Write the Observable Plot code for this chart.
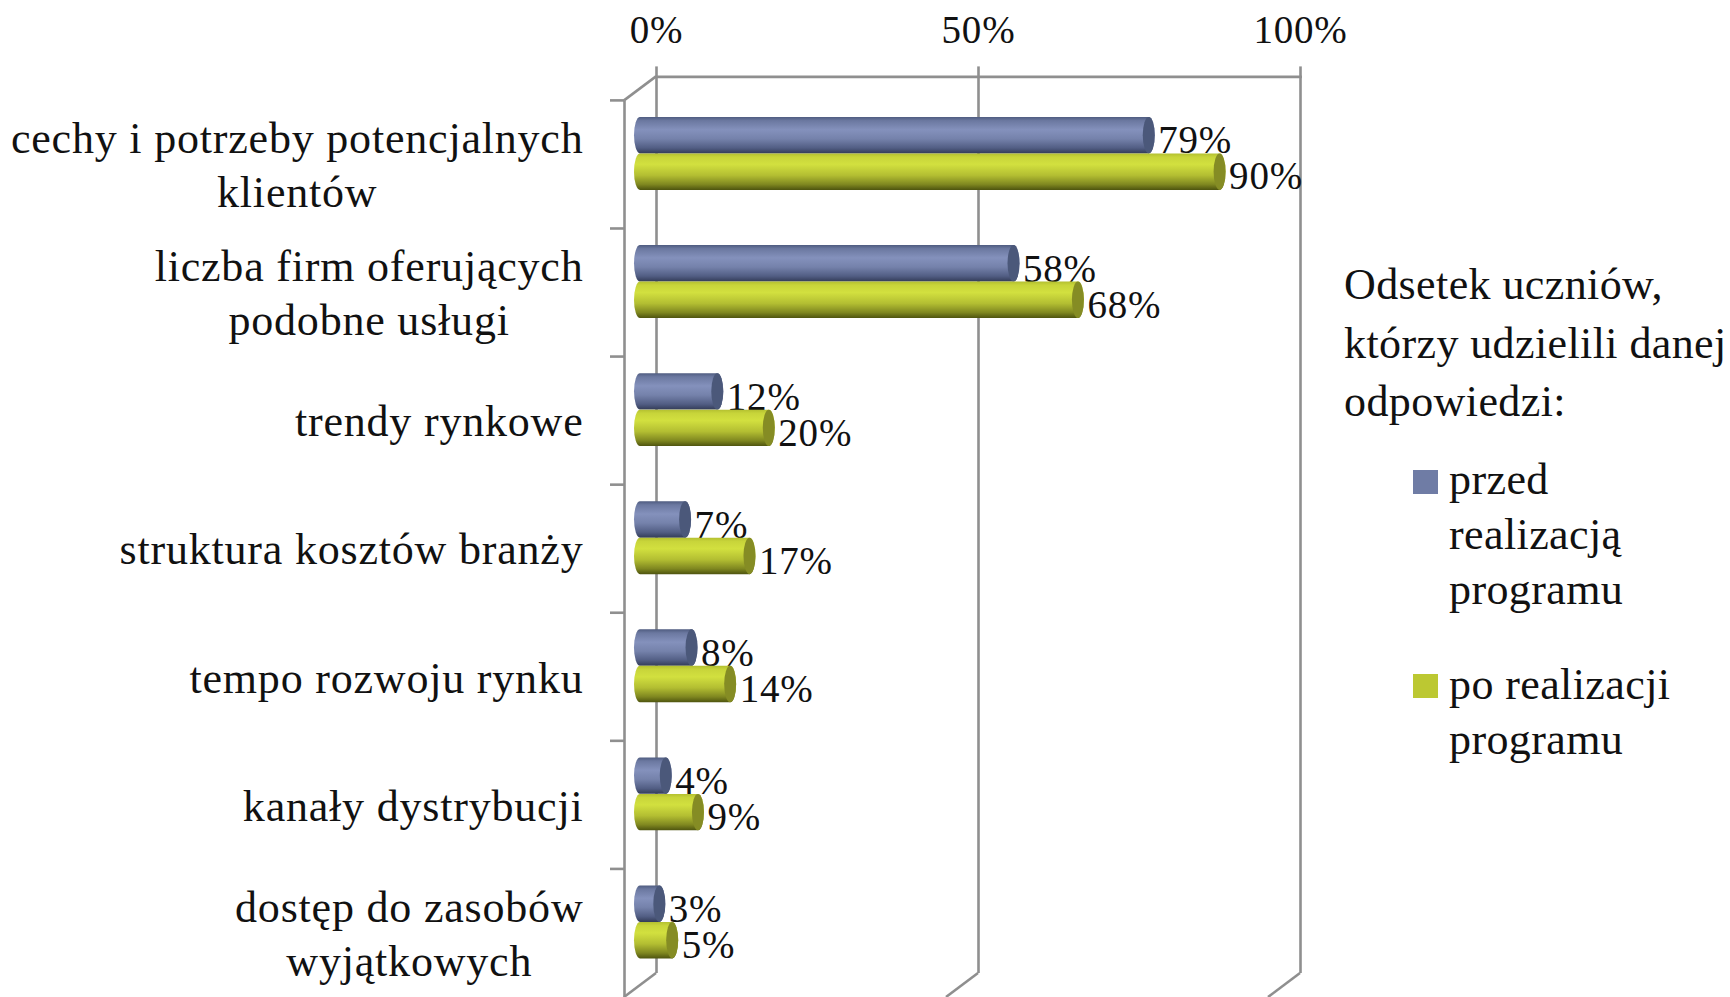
<!DOCTYPE html>
<html><head><meta charset="utf-8">
<script src="https://cdn.jsdelivr.net/npm/d3@7"></script>
<script src="https://cdn.jsdelivr.net/npm/@observablehq/plot@0.6"></script>
<style>
html,body{margin:0;padding:0;background:#fff;overflow:hidden}
#wrap{position:relative;width:1730px;height:997px;overflow:hidden}
.lg{position:absolute;font-family:"Liberation Serif",serif;color:#111;white-space:pre;letter-spacing:0.4px}
.sw{position:absolute;width:25px;height:24px}
</style></head><body><div id="wrap"></div>
<script>
const categories = ["cechy i potrzeby potencjalnych\nklientów","liczba firm oferujących\npodobne usługi","trendy rynkowe","struktura kosztów branży","tempo rozwoju rynku","kanały dystrybucji","dostęp do zasobów\nwyjątkowych"];
const before = [79,58,12,7,8,4,3];
const after = [90,68,20,17,14,9,5];
const xTicks = [0,50,100];
const seriesNames = ["przed\nrealizacją\nprogramu","po realizacji\nprogramu"];
const legendTitle = "Odsetek uczniów,\nktórzy udzielili danej\nodpowiedzi:";
const colors = ["#6f7ca5","#bcc832"];

const data = categories.map((c,i)=>({c,before:before[i],after:after[i]}));
const FONT='"Liberation Serif",serif', GRAY="#8f8f8f", SW=2.6;
const catSize=44, numSize=39, spacing=0.8;
const ctx=document.createElement("canvas").getContext("2d");
ctx.font=`${catSize}px "Liberation Serif"`;
ctx.letterSpacing=spacing+"px";
const widest=c=>Math.max(...c.split("\n").map(l=>ctx.measureText(l).width));

const depthX=32, depthY=24, barDx=-16, barDy=-11, capR=6, barH=36.5;
function gradients(){
  const defs=d3.create("svg:defs");
  const add=(id,stops)=>{const g=defs.append("linearGradient").attr("id",id).attr("x1",0).attr("x2",0).attr("y1",0).attr("y2",1);
    stops.forEach(([o,c])=>g.append("stop").attr("offset",o).attr("stop-color",c));};
  add("gBlue",[[0,"#4f5c80"],[.1,"#6b78a0"],[.35,"#8491bc"],[.6,"#7582ab"],[.85,"#525e84"],[1,"#333c58"]]);
  add("gGreen",[[0,"#b4c030"],[.1,"#c8d53a"],[.3,"#d2e03f"],[.6,"#b3be32"],[.85,"#7f8720"],[1,"#4e540f"]]);
  return defs.node();
}
function depthLines(i,s,v,dim){
  const g=d3.create("svg:g").attr("stroke",GRAY).attr("stroke-width",SW).attr("fill","none");
  const top=dim.marginTop, bot=dim.height-dim.marginBottom;
  g.append("line").attr("x1",s.x(0)).attr("y1",top-depthY).attr("x2",s.x(0)-depthX).attr("y2",top);
  xTicks.forEach(t=>g.append("line").attr("x1",s.x(t)).attr("y1",bot-depthY).attr("x2",s.x(t)-depthX).attr("y2",bot));
  categories.forEach(c=>g.append("line").attr("x1",s.x(0)-depthX-14).attr("x2",s.x(0)-depthX).attr("y1",s.y(c)).attr("y2",s.y(c)));
  return g.node();
}
const bars=(key,fill,cap,top)=>{
  const band=897/7;
  const ins = top?{insetTop:band/2-barH,insetBottom:band/2}:{insetTop:band/2,insetBottom:band/2-barH};
  return [
    Plot.barX(data,{x1:0,x2:key,y:"c",fill:`url(#${fill})`,dx:barDx,dy:barDy,rx:capR,ry:barH/2,insetLeft:-capR,insetRight:-capR,...ins}),
    Plot.barX(data,{x1:key,x2:key,y:"c",fill:cap,dx:barDx,dy:barDy,rx:capR,ry:barH/2,insetLeft:-capR,insetRight:-capR,...ins}),
    Plot.text(data,{x:key,y:"c",text:d=>d[key]+"%",textAnchor:"start",fontSize:numSize,fontFamily:FONT,fill:"#111",dx:barDx+capR+3,dy:barDy+(top?-13:23)})
  ];
};
const chart=Plot.plot({
  width:1730,height:997,marginLeft:656,marginRight:430,marginTop:100.4,marginBottom:0,
  style:{background:"#fff",overflow:"hidden",letterSpacing:spacing+"px"},
  x:{domain:[0,100],axis:null},
  y:{domain:categories,padding:0,round:false,axis:null},
  marks:[
    gradients,
    Plot.ruleX(xTicks,{stroke:GRAY,strokeWidth:SW,strokeOpacity:1,dy:-depthY}),
    Plot.frame({anchor:"top",stroke:GRAY,strokeWidth:SW,strokeOpacity:1,dy:-depthY}),
    Plot.ruleX([0],{stroke:GRAY,strokeWidth:SW,strokeOpacity:1,dx:-depthX}),
    depthLines,
    Plot.axisX({anchor:"top",ticks:xTicks,tickFormat:d=>d+"%",tickSize:11,stroke:GRAY,strokeWidth:SW,dy:-depthY,tickPadding:23,fontSize:numSize,fontFamily:FONT,fill:"#111",label:null,textStroke:"none"}),
    ...bars("before","gBlue","#4b587a",true),
    ...bars("after","gGreen","#858c24",false),
    ...categories.map(c=>Plot.text([c],{y:d=>d,frameAnchor:"left",text:d=>d,textAnchor:"middle",lineAnchor:"middle",lineHeight:54/catSize,fontSize:catSize,fontFamily:FONT,fill:"#111",dx:-73-widest(c)/2,dy:-2}))
  ]
});
const wrap=document.getElementById("wrap");
wrap.appendChild(chart);
const lg=(txt,x,y,lh)=>{const d=document.createElement("div");d.className="lg";d.textContent=txt;
  d.style.cssText=`left:${x}px;top:${y}px;font-size:${catSize}px;line-height:${lh}px`;wrap.appendChild(d);};
lg(legendTitle,1344,256,58.5);
[[seriesNames[0],470,452],[seriesNames[1],674,657]].forEach(([t,y,ty],i)=>{
  const s=document.createElement("div");s.className="sw";s.style.cssText=`left:1413px;top:${y}px;background:${colors[i]}`;wrap.appendChild(s);
  lg(t,1449,ty,55);
});
</script></body></html>
